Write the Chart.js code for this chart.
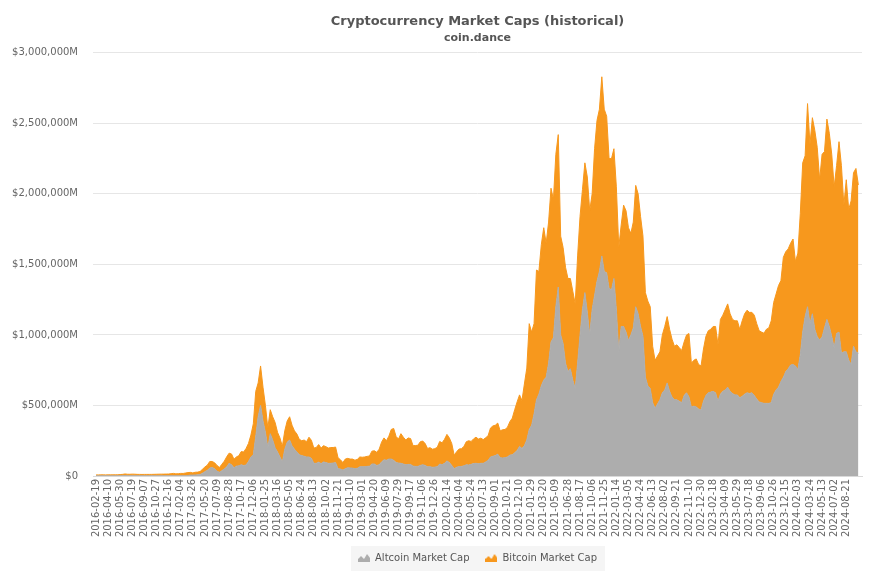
<!DOCTYPE html>
<html>
<head>
<meta charset="utf-8">
<script src="https://cdn.jsdelivr.net/npm/chart.js@4.4.1/dist/chart.umd.min.js"></script>
<style>
  html, body { margin: 0; padding: 0; background: #fff; }
</style>
</head>
<body>
<canvas id="caps" width="877" height="585"></canvas>
<script>
// one x label every 50 daily points, the series are sampled every 10 points (5 per label)
const dateLabels = [
  "2016-02-19","2016-04-10","2016-05-30","2016-07-19","2016-09-07","2016-10-27","2016-12-16",
  "2017-02-04","2017-03-26","2017-05-20","2017-07-09","2017-08-28","2017-10-17","2017-12-06",
  "2018-01-25","2018-03-16","2018-05-05","2018-06-24","2018-08-13","2018-10-02","2018-11-21",
  "2019-01-10","2019-03-01","2019-04-20","2019-06-09","2019-07-29","2019-09-17","2019-11-06","2019-12-26",
  "2020-02-14","2020-04-04","2020-05-24","2020-07-13","2020-09-01","2020-10-21","2020-12-10",
  "2021-01-29","2021-03-20","2021-05-09","2021-06-28","2021-08-17","2021-10-06","2021-11-25",
  "2022-01-14","2022-03-05","2022-04-24","2022-06-13","2022-08-02","2022-09-21","2022-11-10","2022-12-30",
  "2023-02-18","2023-04-09","2023-05-29","2023-07-18","2023-09-06","2023-10-26","2023-12-15",
  "2024-02-03","2024-03-24","2024-05-13","2024-07-02","2024-08-21"
];

// market caps in $ billions (approx. rows by year)
const altcoinCap = [
  1.2, 1.3, 1.8, 1.9, 1.6,      // 2016
  1.6, 1.5, 1.4, 1.6, 1.8,
  2.1, 2.5, 2.8, 2.2, 2.0,
  2.4, 2.3, 2.2, 2.0, 1.8,
  1.8, 1.7, 1.7, 1.7, 1.6,
  1.6, 1.5, 1.5, 1.6, 1.6,
  1.7, 1.7, 1.9, 1.8, 1.8,
  1.8, 1.8, 2.2, 3.5, 6.5,      // 2017
  6.5, 7.5, 8, 10, 20,
  31, 40, 56, 60, 52,
  34, 27, 38, 50, 64,
  90, 80, 58, 70, 72,
  80, 74, 78, 102, 135,
  150, 280, 420, 500, 390,
  310, 200, 300, 255, 200,      // 2018
  170, 135, 100, 190, 240,
  255, 215, 190, 170, 150,
  145, 140, 135, 135, 125,
  90, 90, 98, 88, 100,
  95, 90, 90, 92, 95,
  52, 50, 42, 52, 58,
  57, 56, 52, 55, 65,           // 2019
  66, 66, 68, 70, 85,
  85, 75, 80, 100, 115,
  112, 120, 120, 112, 95,
  92, 90, 85, 80, 82,
  82, 70, 68, 68, 75,
  80, 75, 65, 66, 62,
  63, 66, 85, 80, 90,
  107, 95, 75, 52, 62,          // 2020
  67, 68, 72, 80, 78,
  83, 88, 90, 87, 90, 90,
  100, 110, 135, 140, 145,
  155, 130, 128, 130, 135,
  148, 150, 165, 180, 210,
  195, 215, 255, 330, 360,
  440, 540, 580, 640, 680,      // 2021
  700, 800, 950, 980, 1200,
  1340, 1000, 940, 800, 740,
  760, 680, 620, 800, 1000,
  1180, 1300, 1160, 1000, 1180,
  1280, 1380, 1450, 1560, 1450,
  1440, 1330, 1320, 1400, 1180,
  880, 1060, 1060, 1020, 960,   // 2022
  1000, 1050, 1200, 1150, 1060,
  990, 700, 640, 620, 520,
  480, 510, 540, 590, 610,
  660, 600, 560, 540, 540,
  530, 520, 570, 590, 560,
  490, 495, 490, 475, 468,
  530, 570, 590, 595, 600,
  590, 530, 580, 600, 610,      // 2023
  630, 600, 585, 575, 575,
  555, 565, 580, 590, 585,
  590, 570, 545, 525, 520,
  515, 515, 515, 520, 580,
  610, 630, 670, 700, 740,
  760, 787, 790, 780, 755,
  860, 1020, 1130, 1200, 1080,  // 2024
  1150, 1040, 988, 964, 985,
  1050, 1110, 1060, 990, 910,
  1010, 1020, 870, 880, 880,
  822, 790, 920, 880, 870
];

const bitcoinCap = [
  6.4, 6.6, 6.2, 6.3, 6.3,      // 2016
  6.5, 6.8, 6.9, 7.0, 6.9,
  8.3, 9.1, 11.7, 10.3, 10.2,
  10.8, 10.5, 9.4, 9.3, 9.2,
  9.6, 9.6, 9.6, 9.8, 10.3,
  10.9, 11.4, 11.7, 11.7, 12.2,
  12.5, 14.4, 16.5, 13.4, 14.5,
  16.6, 16.2, 19.1, 20.5, 19.2, // 2017
  15.6, 19.0, 19.5, 21.5, 28,
  33, 37, 47, 43, 42,
  41, 33, 45, 55, 72,
  72, 76, 61, 65, 72,
  93, 96, 117, 129, 155,
  220, 320, 240, 280, 240,
  190, 140, 170, 165, 180,      // 2018
  140, 135, 110, 130, 150,
  165, 145, 130, 128, 110,
  105, 115, 108, 140, 128,
  108, 112, 125, 110, 115,
  113, 108, 112, 110, 110,
  78, 65, 53, 68, 67,
  63, 64, 60, 63, 70,           // 2019
  67, 69, 71, 72, 91,
  94, 93, 110, 140, 155,
  138, 162, 210, 225, 185,
  170, 210, 190, 175, 188,
  183, 145, 148, 150, 168,
  168, 155, 130, 135, 128,
  131, 137, 160, 155, 170,
  188, 175, 155, 95, 110,       // 2020
  124, 126, 137, 163, 172,
  162, 175, 185, 175, 178, 168,
  171, 175, 205, 215, 215,
  220, 190, 200, 200, 210,
  237, 260, 305, 345, 365,
  340, 437, 510, 750, 660,
  640, 920, 870, 1000, 1080,    // 2021
  950, 1000, 1090, 980, 1080,
  1080, 700, 680, 680, 660,
  640, 630, 600, 760, 840,
  850, 920, 960, 880, 820,
  1040, 1140, 1150, 1270, 1150,
  1110, 920, 930, 920, 870,
  740, 720, 860, 860, 800,      // 2022
  720, 750, 860, 850, 780,
  710, 600, 600, 580, 400,
  340, 340, 340, 410, 450,
  470, 440, 410, 380, 390,
  380, 370, 380, 410, 450,
  310, 325, 340, 315, 312,
  370, 420, 440, 445, 460,
  470, 400, 530, 540, 570,      // 2023
  590, 550, 525, 525, 525,
  485, 535, 570, 585, 575,
  570, 570, 535, 505, 500,
  497, 525, 535, 580, 650,
  680, 720, 715, 850, 850,
  850, 863, 890, 740, 825,
  1000, 1200, 1140, 1440, 1270, // 2024
  1390, 1410, 1342, 1136, 1295,
  1250, 1420, 1370, 1290, 1140,
  1190, 1350, 1330, 1040, 1220,
  1068, 1160, 1230, 1300, 1193
];

const yMax = 3000;
const yStep = 500;

const GREY = '#adadad';
const ORANGE = '#f7981d';

function mountainIcon(color) {
  const c = document.createElement('canvas');
  c.width = 12; c.height = 8;
  const g = c.getContext('2d');
  g.fillStyle = color;
  g.beginPath();
  g.moveTo(0, 8);
  g.lineTo(0, 5);
  g.lineTo(3, 2);
  g.lineTo(6, 5);
  g.lineTo(9, 0);
  g.lineTo(12, 4);
  g.lineTo(12, 8);
  g.closePath();
  g.fill();
  return c;
}

function toPoints(arr) {
  return arr.map((v, i) => ({ x: i, y: v }));
}

const legendBox = {
  id: 'legendBox',
  beforeDraw(chart) {
    const ctx = chart.ctx;
    ctx.save();
    ctx.fillStyle = '#fff';
    ctx.fillRect(0, 0, chart.width, chart.height);
    const hb = chart.legend && chart.legend.legendHitBoxes;
    if (hb && hb.length) {
      const left = hb[0].left - 7;
      const right = hb[hb.length - 1].left + hb[hb.length - 1].width + 8;
      const top = hb[0].top - 7;
      const bottom = hb[0].top + hb[0].height + 8;
      ctx.fillStyle = '#f5f5f5';
      ctx.fillRect(left, top, right - left, bottom - top);
    }
    ctx.restore();
  }
};

Chart.defaults.font.family = "'DejaVu Sans', sans-serif";

const capsChart = new Chart(document.getElementById('caps'), {
  type: 'line',
  data: {
    datasets: [{
      label: 'Altcoin Market Cap',
      data: toPoints(altcoinCap),
      backgroundColor: GREY,
      borderColor: GREY,
      borderWidth: 1,
      fill: 'origin',
      pointRadius: 0,
      tension: 0
    }, {
      label: 'Bitcoin Market Cap',
      data: toPoints(bitcoinCap),
      backgroundColor: ORANGE,
      borderColor: ORANGE,
      borderWidth: 1,
      fill: '-1',
      pointRadius: 0,
      tension: 0
    }]
  },
  options: {
    responsive: false,
    animation: false,
    devicePixelRatio: 1,
    layout: { padding: { left: 0, right: 15, top: 0, bottom: 12 } },
    scales: {
      x: {
        type: 'linear',
        min: -1.24,
        max: 316.5,
        grid: { display: false, drawTicks: false },
        border: { display: true, color: '#d9d9d9' },
        afterBuildTicks: (s) => { s.ticks = dateLabels.map((d, i) => ({ value: i * 5 })); },
        afterFit: (s) => { s.height = 61; },
        ticks: {
          autoSkip: false,
          minRotation: 90,
          maxRotation: 90,
          padding: 3,
          color: '#666',
          font: { size: 10 },
          callback: (v) => dateLabels[Math.round(v / 5)]
        }
      },
      y: {
        stacked: true,
        min: 0,
        max: yMax,
        grid: { color: '#e6e6e6', drawTicks: false },
        border: { display: false },
        afterFit: (s) => { s.width = 93; },
        ticks: {
          stepSize: yStep,
          padding: 15,
          color: '#666',
          font: { size: 10 },
          callback: (v) => v === 0 ? '$0' : '$' + (v * 1000).toLocaleString('en-US') + 'M'
        }
      }
    },
    plugins: {
      title: {
        display: true,
        fullSize: false,
        text: 'Cryptocurrency Market Caps (historical)',
        color: '#555',
        font: { size: 13, weight: 'bold' },
        padding: { top: 14, bottom: 2 }
      },
      subtitle: {
        display: true,
        fullSize: false,
        text: 'coin.dance',
        color: '#555',
        font: { size: 11, weight: 'bold' },
        padding: { top: 0, bottom: 8 }
      },
      legend: {
        position: 'bottom',
        fullSize: false,
        labels: {
          usePointStyle: true,
          pointStyleWidth: 12,
          boxHeight: 8,
          padding: 16,
          color: '#555',
          font: { size: 10 },
          generateLabels: () => [
            { text: 'Altcoin Market Cap', pointStyle: mountainIcon(GREY), fillStyle: GREY, strokeStyle: GREY, lineWidth: 0, fontColor: '#555', datasetIndex: 0 },
            { text: 'Bitcoin Market Cap', pointStyle: mountainIcon(ORANGE), fillStyle: ORANGE, strokeStyle: ORANGE, lineWidth: 0, fontColor: '#555', datasetIndex: 1 }
          ]
        }
      },
      tooltip: { enabled: false }
    }
  },
  plugins: [legendBox]
});
</script>
</body>
</html>
